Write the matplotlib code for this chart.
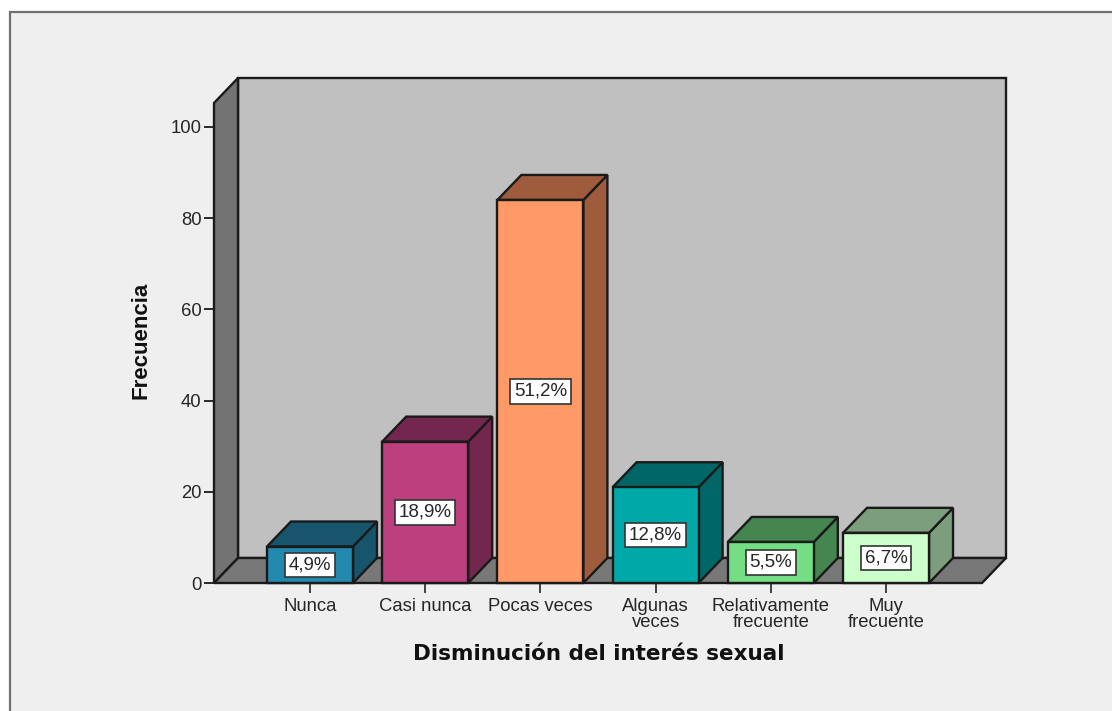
#!/usr/bin/env python3
# plot.py - barras 3D estilo SPSS: disminucion del interes sexual
import matplotlib
matplotlib.use("Agg")
import matplotlib.pyplot as plt
from matplotlib.patches import Polygon, Rectangle

categorias = ["Nunca", "Casi nunca", "Pocas veces", "Algunas\nveces",
              "Relativamente\nfrecuente", "Muy\nfrecuente"]
frecuencias = [8, 31, 84, 21, 9, 11]
porcentajes = ["4,9%", "18,9%", "51,2%", "12,8%", "5,5%", "6,7%"]
color_frente = ["#2389AE", "#BC3F7E", "#FF9966", "#00A8A8", "#74DE85", "#CCFFCC"]
color_lado = ["#16556B", "#73264E", "#9E5C3C", "#006666", "#45854F", "#7C9E7C"]
yticks = [0, 20, 40, 60, 80, 100]

W, H = 1112, 711
BORDE = "#1a1a1a"
TEXTO = "#262626"
plt.rcParams["font.family"] = ["Liberation Sans", "DejaVu Sans"]

fig = plt.figure(figsize=(W / 100, H / 100), dpi=100, facecolor="white")

# marco gris del grafico (detras de los ejes)
fig.add_artist(Rectangle((9.5 / W, -0.02), 1.1, (H - 12) / H + 0.02, transform=fig.transFigure,
                         facecolor="#EFEFEF", edgecolor="#707070", lw=1.6, zorder=-1))

ax = fig.add_axes([214 / W, (H - 583) / H, 768 / W, 480 / H])
ax.patch.set_visible(False)
xlim = (-0.833, 5.833)
ylim = (0, 105.26)
ax.set_xlim(*xlim)
ax.set_ylim(*ylim)
for s in ax.spines.values():
    s.set_visible(False)

# profundidad en unidades de datos
dx = 24 / 115.2
dy = 25 / 4.56
ancho = 86 / 115.2
lw = 1.7


def poly(pts, fc, z):
    ax.add_patch(Polygon(pts, closed=True, facecolor=fc, edgecolor=BORDE, lw=lw,
                         joinstyle="miter", clip_on=False, zorder=z))


x0, x1 = xlim
y1 = ylim[1]
poly([(x0 + dx, dy), (x1 + dx, dy), (x1 + dx, y1 + dy), (x0 + dx, y1 + dy)], "#C0C0C0", 1)
poly([(x0, 0), (x0 + dx, dy), (x0 + dx, y1 + dy), (x0, y1)], "#737373", 1.1)
poly([(x0, 0), (x1, 0), (x1 + dx, dy), (x0 + dx, dy)], "#787878", 1.2)

for i, v in enumerate(frecuencias):
    iz, de = i - ancho / 2, i + ancho / 2
    z = 2 + i
    poly([(de, 0), (de + dx, dy), (de + dx, v + dy), (de, v)], color_lado[i], z)
    poly([(iz, v), (de, v), (de + dx, v + dy), (iz + dx, v + dy)], color_lado[i], z)
    poly([(iz, 0), (de, 0), (de, v), (iz, v)], color_frente[i], z + 0.1)
    ax.text(i, v / 2, porcentajes[i], ha="center", va="center", fontsize=13.5, color=TEXTO, zorder=z + 0.2,
            bbox=dict(boxstyle="square,pad=0.2", facecolor="white", edgecolor="#333333", lw=1.2))

ax.set_xticks(range(len(categorias)))
ax.set_xticklabels(categorias, fontsize=13.3, color=TEXTO, linespacing=0.92)
ax.set_yticks(yticks)
ax.tick_params(axis="y", labelsize=13.3, labelcolor=TEXTO, length=7.5, width=1.3, color=BORDE, pad=1.5)
ax.tick_params(axis="x", length=7.5, width=1.3, color="#333333", pad=3)

ax.set_xlabel("Disminución del interés sexual", fontsize=15.5, fontweight="bold", color="#111111",
              family="DejaVu Sans")
ax.set_ylabel("Frecuencia", fontsize=16, fontweight="bold", color="#111111")
ax.xaxis.set_label_coords(0.501, -0.148)
ax.yaxis.set_label_coords(-0.095, 0.506)
ax.xaxis.label.set_va("center")
ax.yaxis.label.set_va("center")

fig.savefig("out.png", dpi=100, facecolor=fig.get_facecolor())
